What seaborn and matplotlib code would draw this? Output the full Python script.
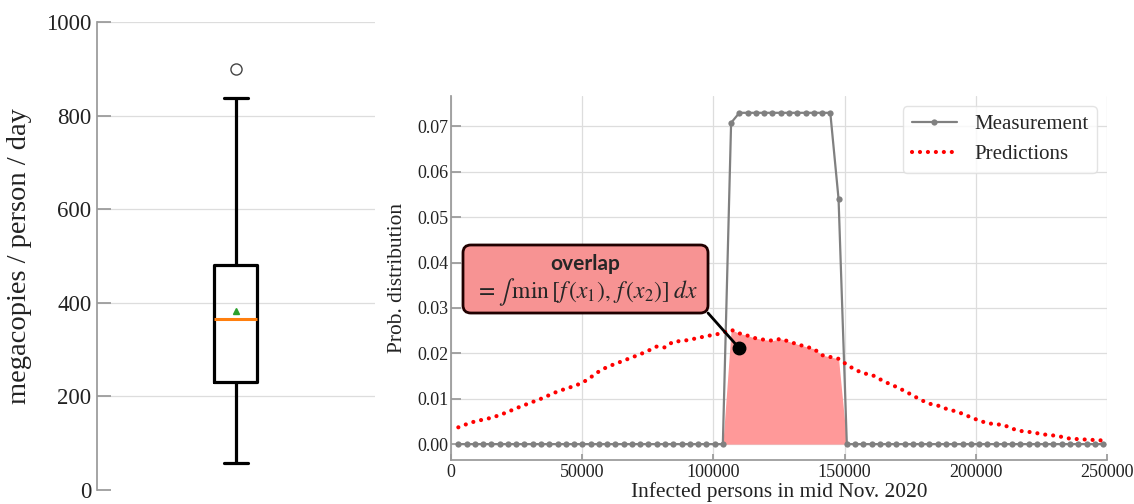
import numpy as np
import matplotlib.pyplot as plt
import seaborn as sns
from matplotlib.patches import FancyBboxPatch

# left panel: daily load per person (values chosen to give the drawn box stats)
megacopies = [57, 90, 160, 231, 250, 300, 365, 380, 420, 481, 496, 837, 899]

# right panel: bin centres of the infected-persons axis
infected = np.arange(2800, 250000, 3150)

measurement = ([0.0] * 33 + [0.0708] + [0.073] * 12 + [0.054] + [0.0] * 32)

predictions = [
    0.0037, 0.0044, 0.0050, 0.0054, 0.0058, 0.0064, 0.0071, 0.0079,
    0.0086, 0.0093, 0.0100, 0.0108, 0.0116, 0.0122, 0.0128, 0.0135,
    0.0147, 0.0160, 0.0170, 0.0177, 0.0184, 0.0191, 0.0198, 0.0206,
    0.0215, 0.0213, 0.0226, 0.0227, 0.0230, 0.0234, 0.0238, 0.0241,
    0.0245, 0.0252, 0.0244, 0.0239, 0.0233, 0.0230, 0.0228, 0.0232,
    0.0226, 0.0220, 0.0215, 0.0210, 0.0196, 0.0192, 0.0188, 0.0175,
    0.0164, 0.0156, 0.0153, 0.0143, 0.0134, 0.0126, 0.0117, 0.0107,
    0.0097, 0.0089, 0.0085, 0.0078, 0.0073, 0.0067, 0.0059, 0.0052,
    0.0046, 0.0044, 0.0042, 0.0034, 0.0029, 0.0027, 0.0024, 0.0021,
    0.0019, 0.0016, 0.0012, 0.0011, 0.0010, 0.0009, 0.0008,
]

sns.set_theme(style="whitegrid", rc={
    "grid.color": "#dddddd",
    "grid.linewidth": 0.9,
    "axes.edgecolor": "#999999",
    "xtick.color": "#999999",
    "ytick.color": "#999999",
    "xtick.labelcolor": "#222222",
    "ytick.labelcolor": "#222222",
    "axes.labelcolor": "#222222",
    "xtick.bottom": True,
    "ytick.left": True,
    "xtick.direction": "in",
    "ytick.direction": "in",
})
plt.rcParams["font.family"] = ["Liberation Serif", "DejaVu Serif"]
plt.rcParams["mathtext.fontset"] = "stix"

fig = plt.figure(figsize=(11.34, 5.04), dpi=100)

# ---- left: box plot
ax1 = fig.add_axes([0.0855, 0.0278, 0.2451, 0.9286])
sns.boxplot(y=megacopies, ax=ax1, width=0.155, fill=False, color="black",
            linewidth=2.3, showmeans=True, capwidths=0.085,
            medianprops=dict(color="#ff7f0e", linewidth=2.2),
            meanprops=dict(marker="^", markerfacecolor="#2ca02c",
                           markeredgecolor="#2ca02c", markersize=5),
            flierprops=dict(marker="o", markerfacecolor="none",
                            markeredgecolor="#444444", markersize=8))
ax1.set_xlim(-0.5, 0.5)
ax1.set_ylim(0, 1000)
ax1.set_yticks([0, 200, 400, 600, 800, 1000])
ax1.set_xticks([])
ax1.grid(axis="x", visible=False)
for s in ["top", "right", "bottom"]:
    ax1.spines[s].set_visible(False)
ax1.yaxis.get_gridlines()[0].set_visible(False)
ax1.tick_params(axis="y", labelsize=16.5, length=10, pad=4)
ax1.set_ylabel("megacopies / person / day", fontsize=20.5, labelpad=10)

# ---- right: distributions
ax2 = fig.add_axes([0.3977, 0.0873, 0.5785, 0.7222])
overlap = np.minimum(measurement, predictions)
ax2.fill_between(infected, 0, overlap, color="#ff9999", lw=0, zorder=1)
sns.lineplot(x=infected, y=measurement, ax=ax2, color="#808080", lw=1.6,
             marker="o", markersize=4.5, markeredgewidth=0,
             label="Measurement", zorder=2)
sns.lineplot(x=infected, y=predictions, ax=ax2, color="red", lw=3,
             linestyle=(0, (0.01, 1.9)), dash_capstyle="round",
             label="Predictions", zorder=3)
ax2.set_xlim(0, 250000)
ax2.set_ylim(-0.0035, 0.0767)
ax2.set_xticks([0, 50000, 100000, 150000, 200000, 250000])
ax2.set_yticks([0.00, 0.01, 0.02, 0.03, 0.04, 0.05, 0.06, 0.07])
ax2.yaxis.set_major_formatter(plt.FormatStrFormatter("%.2f"))
for s in ["top", "right"]:
    ax2.spines[s].set_visible(False)
ax2.tick_params(labelsize=13)
ax2.tick_params(axis="y", length=7, pad=2)
ax2.tick_params(axis="x", length=4, pad=3)
ax2.set_xlabel("Infected persons in mid Nov. 2020", fontsize=15.4, labelpad=1)
ax2.set_ylabel("Prob. distribution", fontsize=15.4, labelpad=7)

leg = ax2.legend(loc="upper right", fontsize=15, handlelength=2.2,
                 frameon=True, fancybox=True, edgecolor="#dddddd")

# overlap callout
box = FancyBboxPatch((0.0183, 0.4038), 0.3735, 0.1869,
                     boxstyle="round,pad=0,rounding_size=0.012",
                     mutation_aspect=656 / 364, transform=ax2.transAxes,
                     facecolor="#f79393", edgecolor="#200000", lw=2, zorder=5)
ax2.add_patch(box)
ax2.text(0.205, 0.538, "overlap", transform=ax2.transAxes, ha="center",
         va="center", fontsize=15, fontweight="bold", family="Lato", zorder=6)
ax2.text(0.2066, 0.4615, r"$=\int\,\min\,[f\,(x_1),\,f\,(x_2)]\;dx$",
         transform=ax2.transAxes, ha="center", va="center", fontsize=17,
         zorder=6)
ax2.annotate("", xy=(109900, 0.0211), xycoords="data",
             xytext=(0.3918, 0.4038), textcoords="axes fraction",
             arrowprops=dict(arrowstyle="-", color="black", lw=2,
                             shrinkA=0, shrinkB=0), zorder=6)
ax2.plot([109900], [0.0211], "o", color="black", markersize=9, zorder=7)

fig.savefig("out.png", dpi=100)
